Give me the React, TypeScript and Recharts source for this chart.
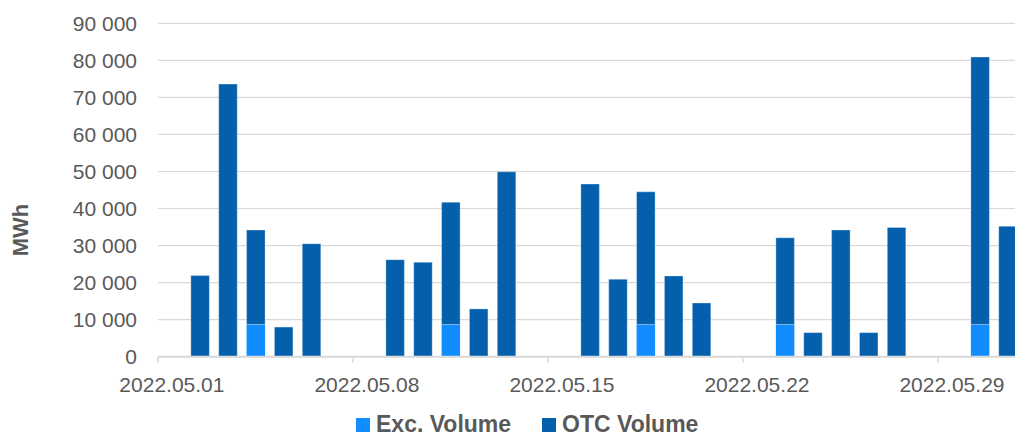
import {BarChart, Bar, XAxis, YAxis, CartesianGrid, Legend} from "recharts";

const dates = [
    "2022.05.01", "2022.05.02", "2022.05.03", "2022.05.04", "2022.05.05", "2022.05.06", "2022.05.07",
    "2022.05.08", "2022.05.09", "2022.05.10", "2022.05.11", "2022.05.12", "2022.05.13", "2022.05.14",
    "2022.05.15", "2022.05.16", "2022.05.17", "2022.05.18", "2022.05.19", "2022.05.20", "2022.05.21",
    "2022.05.22", "2022.05.23", "2022.05.24", "2022.05.25", "2022.05.26", "2022.05.27", "2022.05.28",
    "2022.05.29", "2022.05.30", "2022.05.31",
];

const excVolume = [
    0, 0, 0, 8700, 0, 0, 0,
    0, 0, 0, 8700, 0, 0, 0,
    0, 0, 0, 8700, 0, 0, 0,
    0, 8700, 0, 0, 0, 0, 0,
    0, 8700, 0,
];

const otcVolume = [
    0, 21900, 73600, 25500, 8000, 30500, 0,
    0, 26200, 25500, 33000, 12900, 49900, 0,
    0, 46600, 20900, 35800, 21800, 14500, 0,
    0, 23400, 6500, 34200, 6500, 34900, 0,
    0, 72200, 35200,
];

const yTicks = [0, 10000, 20000, 30000, 40000, 50000, 60000, 70000, 80000, 90000];

const data = dates.map((date, i) => ({date, exc: excVolume[i], otc: otcVolume[i]}));

const TEXT = "#595959";
const LINE = "#d9d9d9";
const FONT = "'Liberation Sans', Arial, sans-serif";

const fmt = (v: number) => String(v).replace(/\B(?=(\d{3})+(?!\d))/g, " ");

const DateTick = (props: any) => {
    const {x, y, payload} = props;
    const off = payload.offset ?? 13.93;
    return (
        <g>
            <line x1={x - off} x2={x - off} y1={y} y2={y + 6} stroke={LINE} strokeWidth={1.5}/>
            <text x={x} y={y + 35} textAnchor="middle" fill={TEXT} fontSize={21} fontFamily={FONT}>
                {payload.value}
            </text>
        </g>
    );
};

// legend drawn by hand so the square and gaps match the original
const LegendContent = (props: any) => {
    const items = props.payload || [];
    return (
        <div style={{display: "flex", alignItems: "center", fontFamily: FONT}}>
            {items.map((it: any, i: number) => (
                <div key={i} style={{display: "flex", alignItems: "center", marginRight: 31}}>
                    <div style={{width: 14, height: 14, background: it.color, marginRight: 6, marginTop: 2}}/>
                    <span style={{fontSize: 23, lineHeight: "26px", fontWeight: "bold", color: TEXT}}>
                        {it.value}
                    </span>
                </div>
            ))}
        </div>
    );
};

const App = () => {
    return (
        <div style={{position: "absolute", left: 0, top: 0, width: 1015, height: 437, overflow: "hidden", background: "#fff"}}>
            <BarChart width={1030} height={437} data={data}
                      margin={{top: 23.3, right: 8.4, left: 0, bottom: 40.3}}>
                <CartesianGrid vertical={false} stroke={LINE} strokeWidth={1.2}/>
                <XAxis dataKey="date" interval={6} height={40} tickSize={0} tickMargin={0}
                       axisLine={{stroke: LINE, strokeWidth: 2}} tickLine={false}
                       tick={<DateTick/>}/>
                <YAxis width={158} domain={[0, 90000]} ticks={yTicks} tickFormatter={fmt}
                       axisLine={false} tickLine={false} tickSize={0} tickMargin={21}
                       tick={{fill: TEXT, fontSize: 21, fontFamily: FONT}}
                       label={() => (
                           <text x={28} y={230} transform="rotate(-90 28 230)" textAnchor="middle"
                                 fill={TEXT} fontSize={22} fontWeight="bold" fontFamily={FONT}>MWh</text>
                       )}/>
                <Legend verticalAlign="middle" content={<LegendContent/>}
                        wrapperStyle={{left: 356, top: 410.5, width: 500, height: 26}}/>
                <Bar dataKey="exc" name="Exc. Volume" stackId="a" fill="#118dff" barSize={18.5}
                     isAnimationActive={false}/>
                <Bar dataKey="otc" name="OTC Volume" stackId="a" fill="#0460ac" barSize={18.5}
                     stroke="#ffffff" strokeOpacity={0.3} strokeWidth={1} isAnimationActive={false}/>
            </BarChart>
        </div>
    );
};

export default App;
